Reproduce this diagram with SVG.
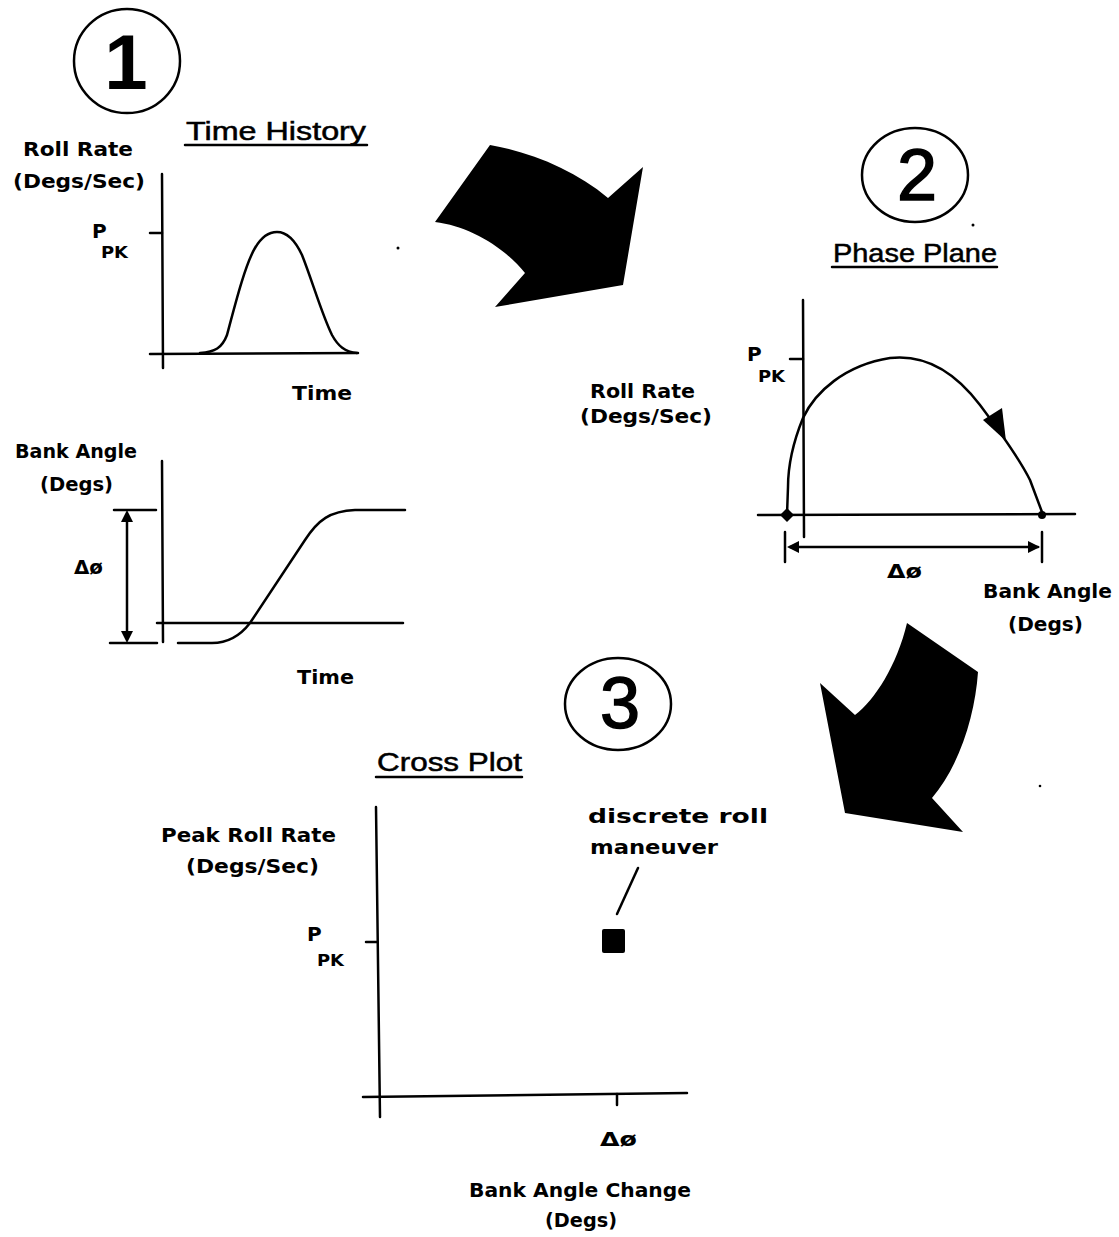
<svg xmlns="http://www.w3.org/2000/svg" width="1119" height="1237" viewBox="0 0 1119 1237">
<style>
  .lbl{font-family:"DejaVu Sans","Liberation Sans",sans-serif;font-weight:bold;font-size:20px;fill:#000}
  .sub{font-family:"DejaVu Sans","Liberation Sans",sans-serif;font-weight:bold;font-size:16px;fill:#000}
  .ttl{font-family:"Liberation Sans","DejaVu Sans",sans-serif;font-size:25px;fill:#000;stroke:#000;stroke-width:0.5}
  .num{font-family:"Liberation Sans","DejaVu Sans",sans-serif;fill:#000;text-anchor:middle}
  .ax{fill:none;stroke:#000;stroke-width:2.5;stroke-linecap:round}
  .cv{fill:none;stroke:#000;stroke-width:2.5;stroke-linecap:round;stroke-linejoin:round}
  .ring{fill:none;stroke:#000;stroke-width:2.5}
  .blk{fill:#000}
</style>
<rect width="1119" height="1237" fill="#fff"/>

<g id="step1">
  <ellipse class="ring" cx="127" cy="61" rx="53" ry="52"/>
  <text class="num" x="126" y="89" font-size="78" font-weight="bold">1</text>
</g>

<g id="time-history-roll">
  <text class="ttl" x="186" y="140" textLength="180" lengthAdjust="spacingAndGlyphs">Time History</text>
  <line class="ax" x1="185" y1="145" x2="367" y2="145"/>
  <text class="lbl" x="23" y="156" textLength="110" lengthAdjust="spacingAndGlyphs">Roll Rate</text>
  <text class="lbl" x="13" y="188" textLength="132" lengthAdjust="spacingAndGlyphs">(Degs/Sec)</text>
  <text class="lbl" x="92" y="238" font-size="19">P</text>
  <text class="sub" x="101" y="258" textLength="27" lengthAdjust="spacingAndGlyphs">PK</text>
  <line class="ax" x1="162" y1="174" x2="163" y2="368"/>
  <line class="ax" x1="150" y1="354" x2="358" y2="353"/>
  <line class="ax" x1="150" y1="233" x2="162" y2="233"/>
  <path class="cv" d="M200,353 C215,352 222,348 227,335 C235,305 245,265 255,248 C262,236 270,232 277,232 C287,232 295,240 302,255 C312,280 322,315 332,335 C338,346 345,352 357,353"/>
  <text class="lbl" x="292" y="400" textLength="60" lengthAdjust="spacingAndGlyphs">Time</text>
  <circle class="blk" cx="398" cy="248" r="1.5"/>
</g>

<g id="time-history-bank">
  <text class="lbl" x="15" y="458" textLength="122" lengthAdjust="spacingAndGlyphs">Bank Angle</text>
  <text class="lbl" x="40" y="491" textLength="73" lengthAdjust="spacingAndGlyphs">(Degs)</text>
  <text class="lbl" x="74" y="574" textLength="29" lengthAdjust="spacingAndGlyphs">Δø</text>
  <line class="ax" x1="162" y1="461" x2="163" y2="642"/>
  <line class="ax" x1="157" y1="623" x2="403" y2="623"/>
  <line class="ax" x1="114" y1="510" x2="156" y2="510"/>
  <line class="ax" x1="110" y1="643" x2="157" y2="643"/>
  <line class="ax" x1="127" y1="515" x2="127" y2="638"/>
  <polygon class="blk" points="127,510 121,522 133,522"/>
  <polygon class="blk" points="127,643 121,631 133,631"/>
  <path class="cv" d="M178,643 L212,643 C228,643 240,636 250,623 L305,540 C318,520 330,511 355,510 L405,510"/>
  <text class="lbl" x="297" y="684" textLength="57" lengthAdjust="spacingAndGlyphs">Time</text>
</g>

<g id="step2">
  <ellipse class="ring" cx="915" cy="175" rx="53" ry="47"/>
  <text class="num" x="917" y="200" font-size="72" stroke="#000" stroke-width="1.5">2</text>
  <circle class="blk" cx="973" cy="225" r="1.5"/>
</g>

<g id="phase-plane">
  <text class="ttl" x="833" y="262" textLength="164" lengthAdjust="spacingAndGlyphs">Phase Plane</text>
  <line class="ax" x1="832" y1="267" x2="997" y2="267"/>
  <text class="lbl" x="747" y="361" font-size="19">P</text>
  <text class="sub" x="758" y="382" textLength="27" lengthAdjust="spacingAndGlyphs">PK</text>
  <line class="ax" x1="803" y1="300" x2="804" y2="537"/>
  <line class="ax" x1="758" y1="515" x2="1075" y2="514"/>
  <line class="ax" x1="790" y1="359" x2="803" y2="359"/>
  <path class="cv" d="M787,515 L788,487 C788,470 792,445 803,418 C815,392 845,365 890,358 C925,354 955,372 980,405 C995,425 1020,460 1030,480 L1042,512"/>
  <polygon class="blk" points="983,420 1002,408 1006,441"/>
  <polygon class="blk" points="787,508 794,515 787,522 780,515"/>
  <circle class="blk" cx="1042" cy="515" r="4"/>
  <line class="ax" x1="790" y1="547" x2="1038" y2="547"/>
  <line class="ax" x1="785" y1="532" x2="785" y2="562"/>
  <line class="ax" x1="1042" y1="532" x2="1042" y2="562"/>
  <polygon class="blk" points="787,547 799,541 799,553"/>
  <polygon class="blk" points="1040,547 1028,541 1028,553"/>
  <text class="lbl" x="887" y="578" textLength="35" lengthAdjust="spacingAndGlyphs">Δø</text>
  <text class="lbl" x="983" y="598" textLength="129" lengthAdjust="spacingAndGlyphs">Bank Angle</text>
  <text class="lbl" x="1008" y="631" textLength="75" lengthAdjust="spacingAndGlyphs">(Degs)</text>
  <text class="lbl" x="590" y="398" textLength="105" lengthAdjust="spacingAndGlyphs">Roll Rate</text>
  <text class="lbl" x="580" y="423" textLength="132" lengthAdjust="spacingAndGlyphs">(Degs/Sec)</text>
</g>

<g id="step3">
  <ellipse class="ring" cx="618" cy="704" rx="53" ry="46"/>
  <text class="num" x="620" y="728" font-size="72" stroke="#000" stroke-width="1.5">3</text>
  <circle class="blk" cx="1040" cy="786" r="1.3"/>
</g>

<g id="cross-plot">
  <text class="ttl" x="377" y="771" textLength="145" lengthAdjust="spacingAndGlyphs">Cross Plot</text>
  <line class="ax" x1="376" y1="777" x2="522" y2="777"/>
  <text class="lbl" x="161" y="842" textLength="175" lengthAdjust="spacingAndGlyphs">Peak Roll Rate</text>
  <text class="lbl" x="186" y="873" textLength="133" lengthAdjust="spacingAndGlyphs">(Degs/Sec)</text>
  <text class="lbl" x="307" y="941" font-size="19">P</text>
  <text class="sub" x="317" y="966" textLength="27" lengthAdjust="spacingAndGlyphs">PK</text>
  <line class="ax" x1="376" y1="807" x2="380" y2="1117"/>
  <line class="ax" x1="363" y1="1097" x2="687" y2="1093"/>
  <line class="ax" x1="366" y1="942" x2="377" y2="942"/>
  <line class="ax" x1="617" y1="1094" x2="617" y2="1105"/>
  <rect class="blk" x="602" y="929" width="23" height="24" rx="2"/>
  <line class="ax" x1="638" y1="868" x2="617" y2="914"/>
  <text class="lbl" x="588" y="823" textLength="180" lengthAdjust="spacingAndGlyphs">discrete roll</text>
  <text class="lbl" x="590" y="854" textLength="128" lengthAdjust="spacingAndGlyphs">maneuver</text>
  <text class="lbl" x="600" y="1146" textLength="37" lengthAdjust="spacingAndGlyphs">Δø</text>
  <text class="lbl" x="469" y="1197" textLength="222" lengthAdjust="spacingAndGlyphs">Bank Angle Change</text>
  <text class="lbl" x="545" y="1227" textLength="72" lengthAdjust="spacingAndGlyphs">(Degs)</text>
</g>

<g id="connectors">
  <path class="blk" d="M490,145 C530,152 575,170 608,198 L643,167 L623,285 L495,307 L525,273 C505,248 470,226 435,222 Z"/>
  <path class="blk" d="M907,623 L978,672 C975,715 960,765 932,798 L963,832 L845,813 L820,683 L855,715 C875,700 897,665 907,623 Z"/>
</g>
</svg>
